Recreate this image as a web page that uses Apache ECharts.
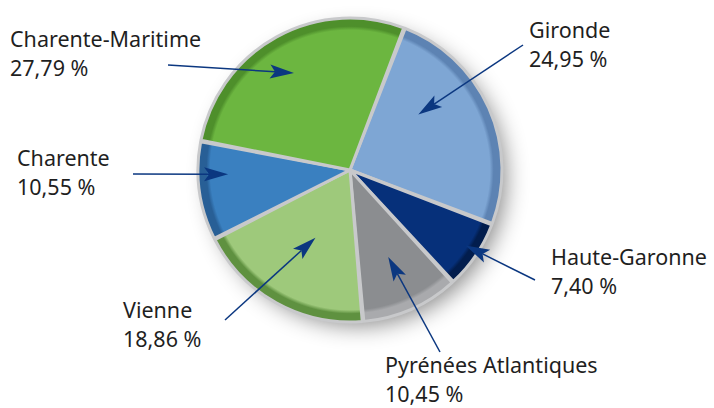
<!DOCTYPE html>
<html>
<head>
<meta charset="utf-8">
<script src="https://cdn.jsdelivr.net/npm/echarts@6/dist/echarts.min.js"></script>
<style>
  html, body { margin: 0; padding: 0; background: #fff; }
  #chart { width: 714px; height: 408px; }
</style>
</head>
<body>
<div id="chart"></div>
<script>
// data (clockwise from the top-right)
const regions = ['Gironde', 'Haute-Garonne', 'Pyrénées Atlantiques', 'Vienne', 'Charente', 'Charente-Maritime'];
const shares = [24.95, 7.40, 10.45, 18.86, 10.55, 27.79];

// styling
const fills = ['#7ea6d4', '#06307a', '#8b8d90', '#9ec97b', '#3a80c0', '#6cb640'];
const rims = ['#5d83b3', '#021d4d', '#a9aaad', '#5f9140', '#285f96', '#4e8f2b'];
const labelPos = [[529, 15], [551, 242], [385, 350], [123, 295], [17, 143], [10, 24]];
const arrowTail = [[523, 45], [535, 280], [440, 352], [225, 320], [133, 174], [168, 65]];
const tipRadius = [88, 138, 95, 76, 122, 112];
const tipNudge = [-15, -1, 0, -2, 6, -1];

const CX = 350, CY = 170, R = 152, START = 21; // start: degrees clockwise from 12 o'clock

const total = shares.reduce((a, b) => a + b, 0);
const midAngles = [];
let acc = START;
shares.forEach(v => {
    const span = v / total * 360;
    midAngles.push(acc + span / 2);
    acc += span;
});

function fmt(v) {
    return v.toFixed(2).replace('.', ',') + ' %';
}

const chart = echarts.init(document.getElementById('chart'), null, { renderer: 'svg' });

chart.setOption({
    animation: false,
    series: [
        {
            // grey base showing through the gaps + drop shadow
            type: 'pie',
            silent: true,
            center: [CX, CY],
            radius: [0, R - 4],
            z: 1,
            label: { show: false },
            labelLine: { show: false },
            itemStyle: {
                color: '#c2c3c5',
                shadowBlur: 22,
                shadowOffsetX: 8,
                shadowOffsetY: 8,
                shadowColor: 'rgba(0,0,0,0.45)'
            },
            data: [{ value: 1 }]
        },
        {
            type: 'pie',
            center: [CX, CY],
            radius: [0, R],
            startAngle: 90 - START,
            clockwise: true,
            padAngle: 0.6,
            avoidLabelOverlap: false,
            z: 2,
            data: regions.map((name, i) => ({
                name: name,
                value: shares[i],
                itemStyle: {
                    color: new echarts.graphic.RadialGradient(CX, CY, R, [
                        { offset: 0, color: fills[i] },
                        { offset: 0.92, color: fills[i] },
                        { offset: 0.945, color: rims[i] },
                        { offset: 1, color: rims[i] }
                    ], true),
                    borderColor: '#c8c9cb',
                    borderWidth: 3
                }
            })),
            label: {
                show: true,
                position: 'outside',
                formatter: p => p.name + '\n' + fmt(p.value),
                color: '#1f1f1f',
                fontFamily: 'Noto Sans',
                fontSize: 21.5,
                lineHeight: 29
            },
            labelLine: { show: false },
            labelLayout: function (p) {
                const pos = labelPos[p.dataIndex];
                return { x: pos[0], y: pos[1], align: 'left', verticalAlign: 'top' };
            }
        },
        {
            // arrows from labels into the slices
            type: 'custom',
            coordinateSystem: 'none',
            silent: true,
            z: 5,
            data: shares,
            renderItem: function (params) {
                const i = params.dataIndex;
                const a = (midAngles[i] + tipNudge[i]) * Math.PI / 180;
                const tip = [CX + tipRadius[i] * Math.sin(a), CY - tipRadius[i] * Math.cos(a)];
                const tail = arrowTail[i];
                const dx = tip[0] - tail[0], dy = tip[1] - tail[1];
                const len = Math.sqrt(dx * dx + dy * dy);
                const ux = dx / len, uy = dy / len;
                const hl = 24, hw = 7, notch = 5;
                const base = [tip[0] - ux * hl, tip[1] - uy * hl];
                const inner = [tip[0] - ux * (hl - notch), tip[1] - uy * (hl - notch)];
                const navy = '#0b3780';
                return {
                    type: 'group',
                    children: [
                        {
                            type: 'line',
                            shape: { x1: tail[0], y1: tail[1], x2: inner[0], y2: inner[1] },
                            style: { stroke: navy, lineWidth: 1.5 }
                        },
                        {
                            type: 'polygon',
                            shape: {
                                points: [
                                    tip,
                                    [base[0] - uy * hw, base[1] + ux * hw],
                                    inner,
                                    [base[0] + uy * hw, base[1] - ux * hw]
                                ]
                            },
                            style: { fill: navy }
                        }
                    ]
                };
            }
        }
    ]
});

window.addEventListener('resize', () => chart.resize());
</script>
</body>
</html>
